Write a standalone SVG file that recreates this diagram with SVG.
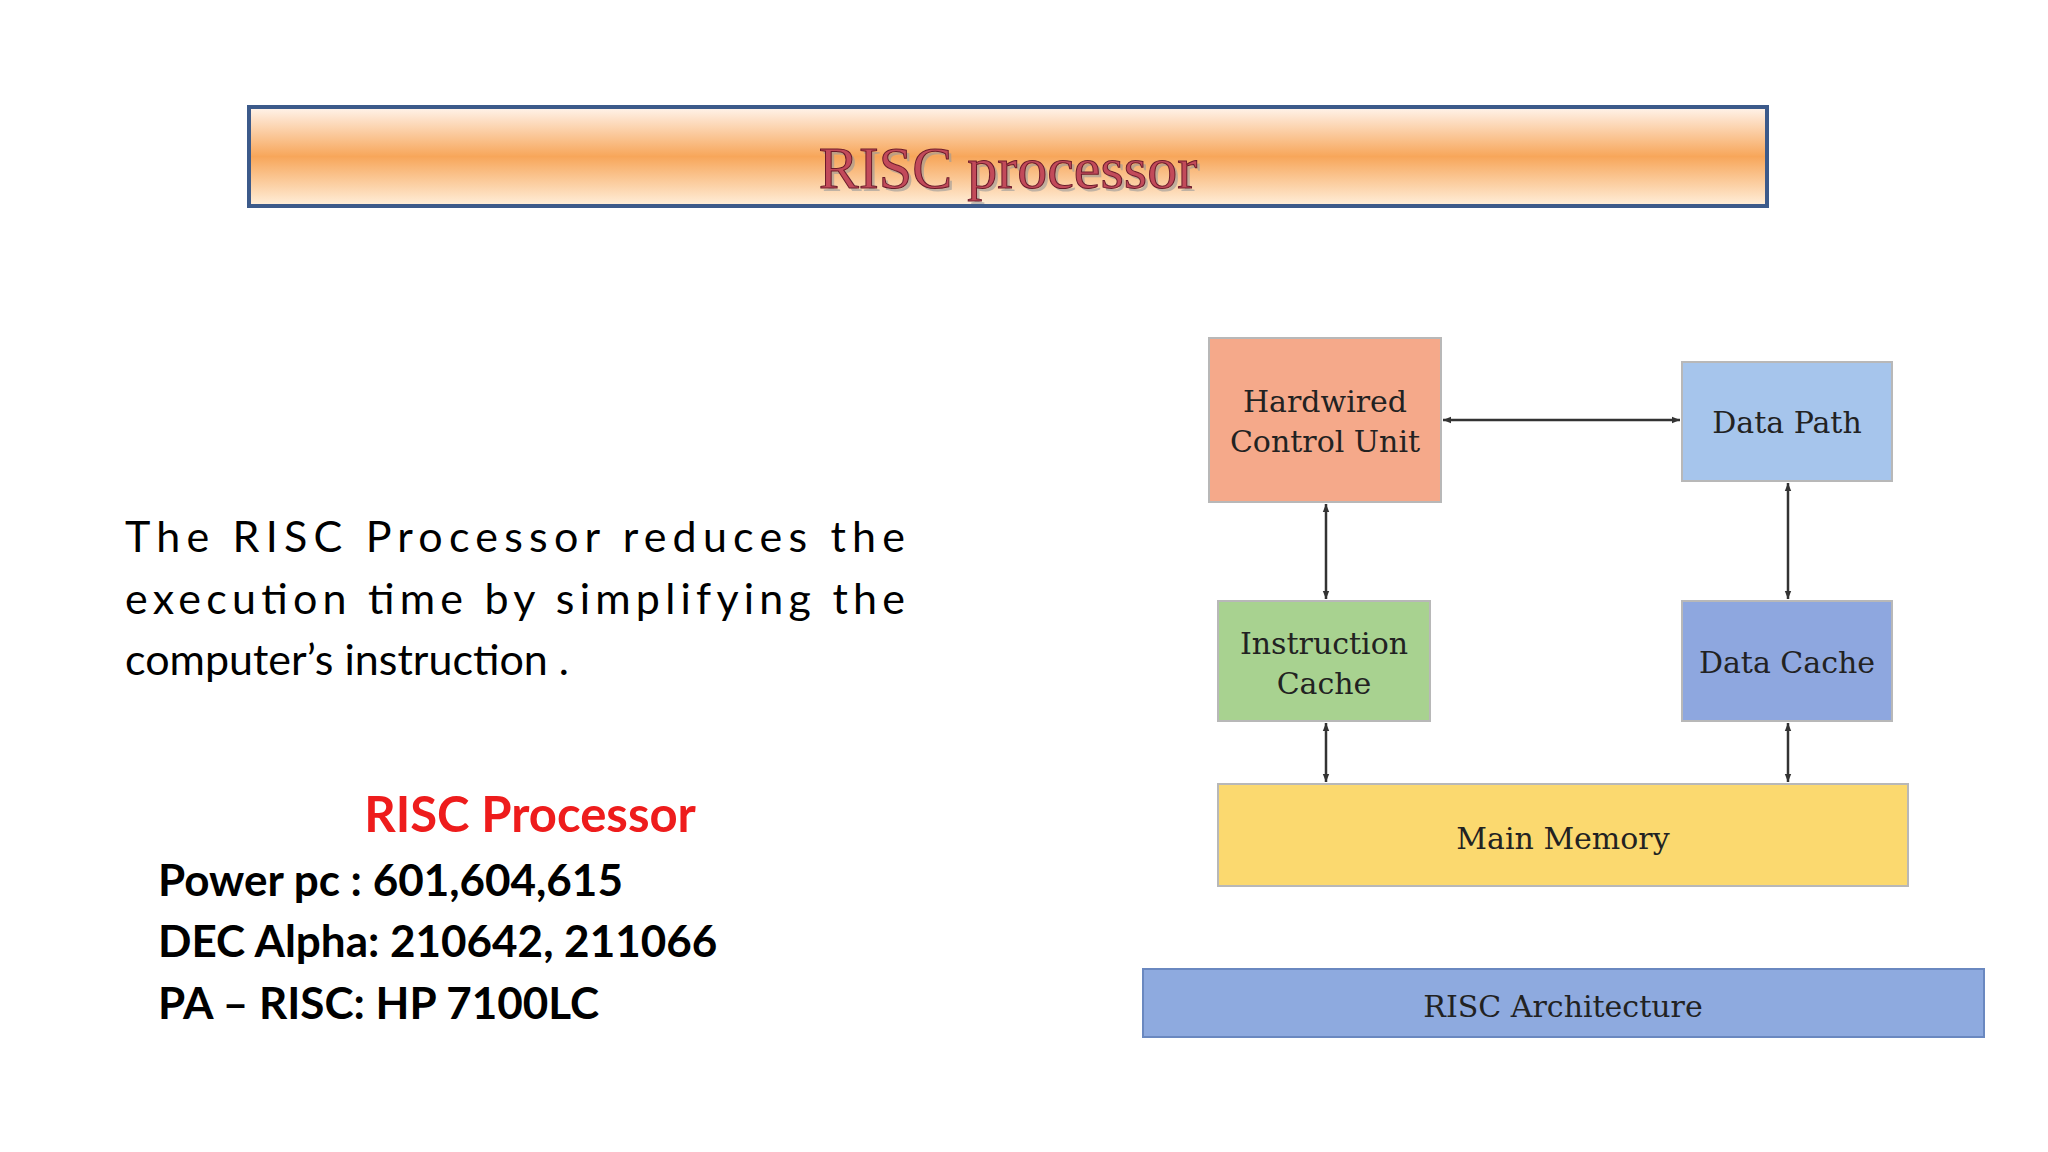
<svg xmlns="http://www.w3.org/2000/svg" width="2048" height="1152" viewBox="0 0 2048 1152">
<defs>
<linearGradient id="tg" x1="0" y1="0" x2="0" y2="1">
<stop offset="0" stop-color="#fff4ec"/><stop offset="0.5" stop-color="#f7a65a"/><stop offset="1" stop-color="#fff0dc"/>
</linearGradient>
<marker id="ah" viewBox="0 0 10 10" refX="10" refY="5" markerWidth="8" markerHeight="8" orient="auto-start-reverse" markerUnits="userSpaceOnUse"><path d="M0,1 L10,5 L0,9 z" fill="#333"/></marker>
</defs>
<style>
.box{stroke:#b8b8b8;stroke-width:2}
.bt{font-family:"DejaVu Serif",serif;font-size:30px;fill:#222;text-anchor:middle}
.ln{stroke:#333;stroke-width:2.5;fill:none;marker-start:url(#ah);marker-end:url(#ah)}
.p{font-family:Lato,"Open Sans",sans-serif;font-size:43px;fill:#000}
.b{font-family:Lato,"Open Sans",sans-serif;font-size:44px;font-weight:bold;fill:#000}
</style>
<rect width="2048" height="1152" fill="#fff"/>
<g id="title">
<rect x="249" y="107" width="1518" height="99" fill="url(#tg)" stroke="#3c5a8a" stroke-width="4"/>
<text x="1008" y="188" font-family="Liberation Serif,serif" font-size="60" fill="#999" text-anchor="middle" opacity="0.6" transform="translate(3,3)">RISC processor</text>
<text x="1008" y="188" font-family="Liberation Serif,serif" font-size="60" fill="#c24a5a" stroke="#6a1a2a" stroke-width="1" text-anchor="middle">RISC processor</text>
</g>
<g id="para">
<text class="p" x="125" y="552" textLength="780" lengthAdjust="spacing">The RISC Processor reduces the</text>
<text class="p" x="125" y="614" textLength="780" lengthAdjust="spacing">execution time by simplifying the</text>
<text class="p" x="125" y="675">computer’s instruction .</text>
</g>
<g id="list">
<text x="530" y="832" font-family="Lato,'Open Sans',sans-serif" font-size="49" font-weight="bold" fill="#ee1c1c" text-anchor="middle">RISC Processor</text>
<text class="b" x="158" y="896">Power pc : 601,604,615</text>
<text class="b" x="158" y="957">DEC Alpha: 210642, 211066</text>
<text class="b" x="158" y="1019">PA – RISC: HP 7100LC</text>
</g>
<g id="connectors">
<line class="ln" x1="1443" y1="420" x2="1680" y2="420"/>
<line class="ln" x1="1326" y1="504" x2="1326" y2="599"/>
<line class="ln" x1="1326" y1="723" x2="1326" y2="782"/>
<line class="ln" x1="1788" y1="483" x2="1788" y2="599"/>
<line class="ln" x1="1788" y1="723" x2="1788" y2="782"/>
</g>
<g id="hcu"><rect class="box" x="1209" y="338" width="232" height="164" fill="#f5a98a"/>
<text class="bt" x="1325" y="412">Hardwired</text><text class="bt" x="1325" y="452">Control Unit</text></g>
<g id="dp"><rect class="box" x="1682" y="362" width="210" height="119" fill="#a6c5ec"/>
<text class="bt" x="1787" y="433">Data Path</text></g>
<g id="ic"><rect class="box" x="1218" y="601" width="212" height="120" fill="#a8d290"/>
<text class="bt" x="1324" y="654">Instruction</text><text class="bt" x="1324" y="694">Cache</text></g>
<g id="dc"><rect class="box" x="1682" y="601" width="210" height="120" fill="#8ea7df"/>
<text class="bt" x="1787" y="673">Data Cache</text></g>
<g id="mm"><rect class="box" x="1218" y="784" width="690" height="102" fill="#fbd96f"/>
<text class="bt" x="1563" y="849" font-size="41">Main Memory</text></g>
<g id="ra"><rect x="1143" y="969" width="841" height="68" fill="#8eaadf" stroke="#6a88c0" stroke-width="2"/>
<text class="bt" x="1563" y="1017" font-size="42">RISC Architecture</text></g>
</svg>
